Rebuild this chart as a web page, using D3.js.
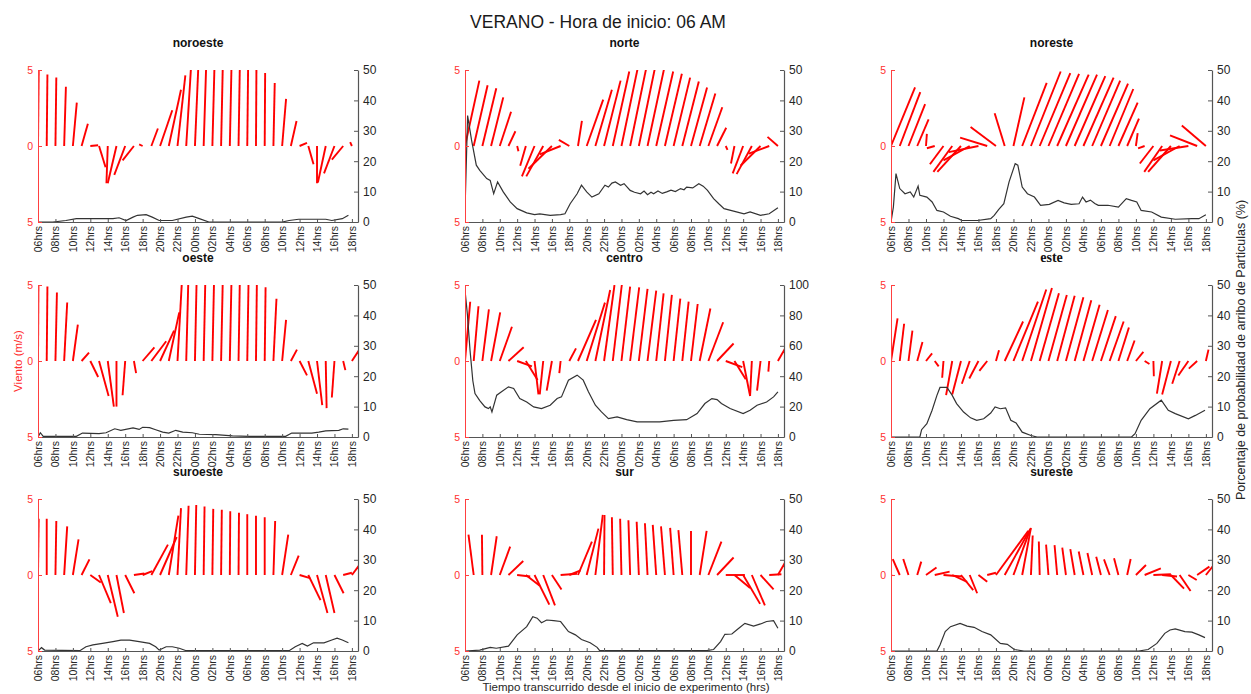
<!DOCTYPE html>
<html>
<head>
<meta charset="utf-8">
<script src="https://cdn.jsdelivr.net/npm/d3@7"></script>
<style>
  body { margin: 0; background: #fff; }
  text { font-family: Arial, "Liberation Sans", Helvetica, sans-serif; }
</style>
</head>
<body>
<div id="wrapper"></div>
<script>
// tick labels, one every 2 hours (06hrs day 1 -> 18hrs day 2)
const horas = ["06hrs","08hrs","10hrs","12hrs","14hrs","16hrs","18hrs","20hrs","22hrs",
               "00hrs","02hrs","04hrs","06hrs","08hrs","10hrs","12hrs","14hrs","16hrs","18hrs"];

// wind sticks, one per hour: [u, v] in m/s (u drawn along the time axis)
const viento_noroeste = [[0.08,5],[0.08,4.7],[0.1,4.5],[0.2,3.9],[0.45,2.85],[0.72,1.47],[0.9,0.05],[0.75,-1.4],[-0.15,-2.45],[-1.0,-2.45],[-1.25,-1.9],[-1.3,-0.95],[-0.4,0.1],[0.75,1.15],[1.4,2.35],[1.4,3.7],[0.9,4.65],[0.55,5.2],[0.4,5.4],[0.3,5.5],[0.25,5.5],[0.2,5.5],[0.2,5.5],[0.15,5.4],[0.1,5.3],[0.05,5.05],[0.05,4.8],[0.15,4.15],[0.45,3.1],[0.65,1.65],[0.85,0.2],[0.6,-1.2],[0,-2.45],[-0.9,-2.4],[-1.2,-1.8],[-1.3,-0.9],[-0.2,0.25]];
const viento_norte = [[1.65,4.3],[1.6,4.0],[1.6,3.8],[1.4,3.2],[1.3,2.25],[0.8,0.97],[0.15,-0.35],[-0.65,-1.3],[-1.45,-2.0],[-1.95,-2.0],[-2.7,-1.5],[-2.4,-0.55],[-1.2,0.4],[0.45,1.65],[1.9,3.05],[1.9,3.7],[1.9,4.3],[1.9,4.9],[1.9,5.2],[1.95,5.4],[1.95,5.4],[1.95,5.2],[1.95,4.9],[1.95,4.75],[1.9,4.5],[1.9,4.25],[1.85,3.85],[1.8,3.45],[1.6,2.55],[1.05,1.2],[0.2,-0.25],[-0.4,-1.15],[-1.2,-1.8],[-1.75,-1.85],[-2.3,-1.3],[-2.35,-0.5],[-1.2,0.6]];
const viento_noreste = [[2.75,3.85],[2.35,3.55],[1.9,2.75],[1.3,1.75],[0.1,0.8],[-0.9,-0.15],[-1.55,-1.2],[-2.15,-1.7],[-2.7,-1.7],[-3.0,-0.95],[-3.4,-0.4],[-3.1,0.55],[-2.9,1.25],[-1.15,2.15],[1.25,3.2],[2.8,4.15],[3.4,4.9],[3.5,4.8],[3.5,4.75],[3.6,4.7],[3.55,4.7],[3.5,4.6],[3.45,4.5],[3.2,4.3],[3.1,4.1],[2.7,3.75],[2.2,2.85],[1.35,1.8],[0.2,0.85],[-0.75,-0.15],[-1.55,-1.15],[-2.05,-1.7],[-2.6,-1.7],[-3.0,-0.95],[-3.25,-0.3],[-3.1,0.7],[-2.75,1.35]];
const viento_oeste = [[0.05,5],[0.08,4.9],[0.17,4.5],[0.35,3.85],[0.57,2.4],[0.85,0.55],[0.9,-1.05],[1.1,-2.3],[0.7,-3.0],[0,-3.0],[-0.3,-2.25],[0.25,-0.8],[1.35,0.9],[1.7,1.3],[1.6,2.0],[1.2,3.2],[0.5,5.2],[0.25,5.5],[0.2,5.6],[0.2,5.6],[0.2,5.6],[0.2,5.6],[0.2,5.6],[0.15,5.5],[0.15,5.4],[0.1,5.1],[0.1,4.85],[0.35,4.1],[0.45,2.7],[0.7,0.75],[0.85,-0.95],[1.0,-2.15],[0.6,-2.9],[0.1,-3.1],[-0.3,-2.4],[0.25,-0.6],[0.8,0.7]];
const viento_centro = [[0.6,3.9],[0.55,3.6],[0.75,3.4],[1.05,3.2],[1.4,2.25],[1.75,0.9],[1.7,-0.35],[1.35,-1.25],[0.45,-2.2],[-0.4,-2.2],[-0.6,-1.95],[-0.15,-0.8],[0.77,0.83],[2.07,2.7],[2.1,3.84],[1.7,4.67],[1.2,5.0],[1.04,5.0],[1.0,4.9],[1.04,4.85],[1.0,4.75],[1.0,4.63],[0.85,4.45],[0.8,4.35],[0.77,4.1],[0.73,3.9],[0.77,3.75],[1.23,3.45],[1.7,2.55],[1.9,1.15],[1.9,-0.4],[1.3,-1.2],[0.8,-2.3],[-0.2,-2.3],[-0.4,-1.95],[-0.1,-0.7],[0.8,0.8]];
const viento_este = [[0.75,2.8],[0.5,2.45],[0.45,2.0],[0.6,1.25],[0.7,0.5],[0.45,-0.35],[-0.15,-1.1],[-0.7,-2.25],[-1.0,-2.2],[-0.9,-1.5],[-1.05,-1.15],[-0.9,-0.65],[0.35,0.7],[2.1,2.6],[2.8,3.9],[2.75,4.7],[2.4,4.8],[2.2,4.45],[2.1,4.35],[2.0,4.3],[2.0,4.2],[1.9,4.0],[1.85,3.7],[1.8,3.35],[1.7,2.95],[1.6,2.6],[1.2,2.2],[0.85,1.35],[0.85,0.6],[0.55,-0.2],[0.05,-1.0],[-0.6,-2.15],[-1.0,-2.2],[-0.85,-1.5],[-1.15,-0.95],[-0.95,-0.5],[0.3,0.75]];
const viento_suroeste = [[0.08,3.7],[0,3.7],[0.1,3.55],[0.35,3.2],[0.65,2.35],[0.9,1.03],[1.2,-0.5],[1.35,-1.85],[1.15,-2.75],[0.85,-2.5],[1.05,-1.2],[1.2,0.1],[1.1,0.25],[1.9,2.0],[1.9,2.5],[1.1,3.9],[0.4,4.4],[0.27,4.55],[0.15,4.6],[0.1,4.5],[0.1,4.35],[0.08,4.3],[0.05,4.2],[0.05,4.1],[0,4.0],[0,3.9],[0,3.8],[0.2,3.55],[0.7,2.65],[0.9,1.28],[1.2,-0.2],[1.4,-1.65],[1.2,-2.5],[1.0,-2.5],[1.05,-1.2],[1.0,0.15],[0.85,0.65]];
const viento_sur = [[0,0],[-0.6,2.65],[-0.05,2.65],[0.65,2.55],[1.2,1.87],[1.7,0.92],[1.5,-0.1],[1.6,-0.7],[1.7,-1.95],[1.35,-2.0],[1.1,-0.95],[1.9,0.08],[1.3,0.3],[1.6,2.2],[1.35,3.05],[0.85,3.95],[0.05,3.95],[-0.1,3.8],[-0.15,3.7],[-0.2,3.6],[-0.25,3.5],[-0.3,3.4],[-0.4,3.3],[-0.45,3.2],[-0.4,3.1],[-0.45,2.95],[0,2.9],[0.8,2.9],[1.5,2.2],[1.9,1.15],[2.2,0],[1.8,-0.85],[1.95,-1.9],[1.5,-2.0],[1.5,-0.95],[1.4,0.05],[0.9,0.9]];
const viento_sureste = [[0.1,0.05],[-0.8,1.05],[-0.6,1.05],[0.46,0.88],[1.2,0.5],[1.7,0.22],[2.1,-0.1],[1.7,-0.45],[1.4,-1.0],[0.85,-1.2],[1.0,-0.45],[1.0,0.15],[3.7,2.9],[2.9,3.0],[1.95,3.05],[1.0,3.1],[0.2,2.6],[-0.1,2.2],[-0.27,2.0],[-0.3,1.97],[-0.42,1.8],[-0.5,1.7],[-0.54,1.55],[-0.54,1.45],[-0.54,1.2],[-0.65,1.03],[-0.5,1.1],[0.4,1.05],[1.15,0.66],[1.85,0.44],[2.0,0.05],[1.7,-0.1],[1.5,-0.9],[1.25,-1.05],[0.95,-0.33],[1.4,0.55],[0.9,0.65]];

// particle arrival probability: [hours since start, %]
const prob_noroeste = [[0,0],[1.7,0],[3.2,0.5],[4.4,1.1],[5.5,1.1],[7,1.1],[8.6,1.1],[9.3,1.4],[10.1,0.5],[10.9,1.6],[11.4,2.2],[12.4,2.4],[13.1,1.6],[13.9,0.5],[15.4,0.5],[17,1.6],[17.7,1.9],[18.5,1.1],[19.6,0],[28,0],[28.8,0.5],[29.9,0.9],[33,0.9],[33.7,0.5],[34.9,1.1],[35.6,2.2]];
const prob_norte = [[0,3.8],[0.3,35],[0.75,27],[1.3,18.7],[1.7,17],[2.5,14.3],[2.9,13.7],[3.3,9.3],[3.75,13.2],[4.4,9.9],[5.2,6.6],[6,4.4],[7.1,3],[8,2.4],[8.6,2.7],[9.8,2.2],[11,2.4],[11.5,2.7],[12.1,6],[12.9,9.3],[13.4,12.1],[14,9.9],[14.6,8.2],[15.4,9.3],[16.1,12.1],[16.5,11.5],[16.9,12.8],[17.3,13.2],[17.9,12.1],[18.3,12.6],[19,10.4],[19.5,9.8],[20.2,9.3],[20.6,10.2],[21,9],[21.4,9.8],[21.7,9.3],[22.2,10.2],[22.7,9.4],[23.2,9.9],[23.7,10.5],[24.2,10],[24.8,11],[25.2,10.6],[25.5,11.5],[26.2,11.2],[26.9,12.6],[27.4,11.8],[27.9,10.4],[28.6,7.7],[29.2,6],[29.8,4.4],[30.9,3.6],[32.1,2.7],[32.8,3.3],[34,2.2],[35,2.7],[36,4.7]];
const prob_noreste = [[0,0],[0.27,4.9],[0.57,15.9],[1,11],[1.6,9.3],[2.2,9.9],[2.6,8.2],[3.1,11.8],[3.3,8.8],[4.1,8.2],[4.7,6.6],[5.25,3.8],[6,3.3],[6.8,1.9],[7.7,1.1],[8.1,0.5],[9.9,0.5],[11.4,1.1],[11.8,2.2],[12.3,4.1],[12.9,6],[13.5,13.2],[14.2,19.2],[14.5,18.7],[15,11.5],[15.6,9.3],[16.4,8.2],[17.1,5.5],[18.1,5.8],[19.1,7.1],[19.8,6.3],[20.6,5.8],[21.5,6],[21.9,8.2],[22.3,6.6],[22.8,7.2],[23.3,6.1],[23.7,5.5],[24.8,5.5],[26,4.9],[26.9,7.7],[27.5,7.1],[28.1,6.6],[28.6,3.8],[29.8,3.3],[30.9,1.6],[32.5,0.9],[34.4,1.1],[35.2,1.1],[36,2.4]];
const prob_oeste = [[0,0],[0.27,1.4],[0.6,0.2],[4.4,0.2],[5.1,1.3],[7,1.1],[7.8,1.4],[8.8,2.7],[9.5,2.2],[10.9,3],[11.6,2.5],[12,3.2],[12.8,3.1],[13.5,2.4],[14.3,1.6],[15,1.3],[15.8,2.2],[16.6,1.6],[17.7,1.4],[18.5,0.9],[20.4,0.8],[22.3,0.4],[24.2,0.2],[28.4,0.2],[29.1,1.3],[31.4,1.3],[32.2,1.6],[33,2],[33.7,2.1],[34.5,2.2],[35,2.7],[35.6,2.6]];
const prob_centro = [[0,96.7],[0.27,81],[0.58,57],[0.9,37],[1.15,28.6],[1.7,24],[2.3,19.8],[2.7,18.7],[2.9,19.8],[3.1,16.5],[3.65,27.5],[4.2,29.7],[5,33],[5.6,31.9],[6.3,25.3],[7.1,23],[7.9,19.8],[8.8,18.7],[9.8,20.9],[10.6,25.3],[11.1,26.4],[11.9,37.4],[12.9,40.7],[13.6,37.4],[14.2,29.7],[15,20.9],[15.7,16.5],[16.5,12.1],[17.5,13.2],[18.6,11.4],[19.8,9.9],[20.9,9.9],[22.4,9.9],[24,11],[25.5,11.4],[26.7,15.4],[27.6,22],[28.4,25.3],[29,24.6],[29.5,22],[30.5,18.7],[32,15.4],[32.8,17.6],[33.6,20.9],[34.7,23],[35.5,26.4],[36,29.7]];
const prob_este = [[0,0],[3.3,0],[3.5,2.4],[4.1,4.4],[4.7,8.8],[5.25,13.7],[5.6,16.3],[6.4,16.3],[7,13.7],[7.5,11],[8.3,8.2],[9.1,6.3],[9.8,5.5],[10.6,6],[11.4,7.9],[11.9,9.9],[12.5,9.3],[13.1,9.6],[13.7,5.5],[14.3,4.6],[15,1.6],[16,0.5],[16.7,0],[27.5,0],[27.9,1.1],[28.6,5.5],[29.6,9.3],[30.9,12.1],[31.7,8.8],[32.5,7.7],[34,6],[34.8,7.1],[35.9,8.8]];
const prob_suroeste = [[0,0],[0.4,1.1],[0.76,0.3],[4.8,0.1],[5.5,1.4],[6.3,2],[7.4,2.5],[8.6,3.1],[9.5,3.6],[10.5,3.6],[11.6,3.1],[12.8,2.5],[13.5,1.4],[13.9,0.3],[14.7,1.4],[15.4,1.4],[16.2,0.9],[17,0.1],[28.8,0.1],[29.5,1.4],[30.3,2.5],[30.9,1.6],[31.6,2.7],[32.8,2.7],[33.7,3.6],[34.3,4.2],[34.9,3.6],[35.6,2.7]];
const prob_sur = [[0,0],[1.7,0.3],[2.9,1.2],[3.6,0.9],[5,1.6],[6,5.3],[7.1,8],[7.8,11.3],[8.3,10.8],[8.8,9.3],[9.4,10.2],[10.2,10],[11,9.7],[11.9,6.4],[12.7,5.3],[13.4,3.8],[14.4,2.7],[15.2,1.2],[15.5,0.1],[27.8,0.1],[28.6,0.5],[29.4,3.1],[29.9,5.5],[30.7,5.6],[31.5,7.5],[32.2,9.1],[33.2,8.2],[34,8.9],[34.7,9.7],[35.5,10],[36,7.5]];
const prob_sureste = [[0,0],[5.25,0],[5.6,2],[6.2,6.4],[6.8,8],[7.9,9.1],[8.7,8.2],[9.5,7.8],[10.4,6.4],[11.4,5.3],[12.5,2.5],[13.3,2.2],[14.1,0.5],[15.2,0],[28.3,0],[29.4,0.5],[30.4,2.5],[31.3,5.8],[31.9,6.9],[32.5,7.3],[33.6,6.4],[34.4,6.2],[35.2,5.3],[35.9,4.4]];

const panels = [
  {name: "noroeste", viento: viento_noroeste, prob: prob_noroeste, pmax: 50,  col: 0, row: 0},
  {name: "norte",    viento: viento_norte,    prob: prob_norte,    pmax: 50,  col: 1, row: 0},
  {name: "noreste",  viento: viento_noreste,  prob: prob_noreste,  pmax: 50,  col: 2, row: 0},
  {name: "oeste",    viento: viento_oeste,    prob: prob_oeste,    pmax: 50,  col: 0, row: 1},
  {name: "centro",   viento: viento_centro,   prob: prob_centro,   pmax: 100, col: 1, row: 1},
  {name: "este",     viento: viento_este,     prob: prob_este,     pmax: 50,  col: 2, row: 1, serif: true},
  {name: "suroeste", viento: viento_suroeste, prob: prob_suroeste, pmax: 50,  col: 0, row: 2},
  {name: "sur",      viento: viento_sur,      prob: prob_sur,      pmax: 50,  col: 1, row: 2},
  {name: "sureste",  viento: viento_sureste,  prob: prob_sureste,  pmax: 50,  col: 2, row: 2}
];

const colX = [38, 465, 891], colW = [320, 319, 321];
const rowY = [70, 285, 499], rowH = 152;

const svg = d3.select("#wrapper").append("svg")
  .attr("width", 1251).attr("height", 694);

svg.append("text")
  .attr("x", 598).attr("y", 28)
  .attr("text-anchor", "middle")
  .style("font-size", "17.5px")
  .attr("fill", "#1a1a1a")
  .text("VERANO - Hora de inicio: 06 AM");

panels.forEach((p, k) => {
  const x0 = colX[p.col], w = colW[p.col];
  const y0 = rowY[p.row], h = rowH;

  const x = d3.scaleLinear().domain([0, 36.7]).range([x0, x0 + w]);
  const yw = d3.scaleLinear().domain([-5, 5]).range([y0 + h, y0]);
  const yp = d3.scaleLinear().domain([0, p.pmax]).range([y0 + h, y0]);

  const g = svg.append("g");

  svg.append("clipPath").attr("id", "clip" + k)
    .append("rect").attr("x", x0).attr("y", y0).attr("width", w).attr("height", h);

  // title ("este" is set in a serif face in the original)
  g.append("text")
    .attr("x", x0 + w / 2).attr("y", y0 - 23)
    .attr("text-anchor", "middle")
    .attr("font-weight", "bold")
    .style("font-size", p.serif ? "14px" : "12px")
    .style("font-family", p.serif ? "'Liberation Serif', 'Times New Roman', serif" : null)
    .attr("fill", "#111")
    .text(p.name);

  // wind sticks
  g.append("g").attr("clip-path", `url(#clip${k})`)
    .selectAll("line")
    .data(p.viento)
    .join("line")
    .attr("x1", (d, i) => x(i))
    .attr("y1", yw(0))
    .attr("x2", (d, i) => x(i + d[0]))
    .attr("y2", d => yw(d[1]))
    .attr("stroke", "#ff0000")
    .attr("stroke-width", 1.9);

  // probability line
  g.append("path")
    .datum(p.prob)
    .attr("clip-path", `url(#clip${k})`)
    .attr("fill", "none")
    .attr("stroke", "#333")
    .attr("stroke-width", 1.2)
    .attr("d", d3.line().x(d => x(d[0])).y(d => yp(d[1])));

  // bottom axis
  const xAxis = d3.axisBottom(x)
    .tickValues(d3.range(0, 37, 2))
    .tickFormat((d, i) => horas[i])
    .tickSizeInner(-3).tickSizeOuter(0);
  const gx = g.append("g")
    .attr("transform", `translate(0,${y0 + h})`)
    .call(xAxis);
  gx.select(".domain").attr("stroke", "#555");
  gx.selectAll(".tick line").attr("stroke", "#555");
  gx.selectAll("text")
    .attr("transform", "rotate(-90)")
    .attr("x", -4).attr("y", 0).attr("dy", "0.33em")
    .style("text-anchor", "end")
    .style("font-size", "10.5px")
    .attr("fill", "#262626");

  // left axis (wind, red)
  const gl = g.append("g")
    .attr("transform", `translate(${x0},0)`)
    .call(d3.axisLeft(yw).tickValues([-5, 0, 5]).tickFormat(d => Math.abs(d))
      .tickSizeInner(-4).tickSizeOuter(0).tickPadding(5));
  gl.select(".domain").attr("stroke", "#ff4040");
  gl.selectAll(".tick line").attr("stroke", "#ff4040");
  gl.selectAll("text").style("font-size", "10.5px").attr("fill", "#ff3030");

  // right axis (probability)
  const gr = g.append("g")
    .attr("transform", `translate(${x0 + w},0)`)
    .call(d3.axisRight(yp).ticks(5).tickSizeInner(-4).tickSizeOuter(0).tickPadding(5));
  gr.select(".domain").attr("stroke", "#555").attr("stroke-width", 1.2);
  gr.selectAll(".tick line").attr("stroke", "#555");
  gr.selectAll("text").style("font-size", "12px").attr("fill", "#262626");
});

svg.append("text")
  .attr("transform", "translate(22,361) rotate(-90)")
  .attr("text-anchor", "middle")
  .style("font-size", "11.5px")
  .attr("fill", "#ff3030")
  .text("Viento (m/s)");

svg.append("text")
  .attr("transform", "translate(1245,350) rotate(-90)")
  .attr("text-anchor", "middle")
  .style("font-size", "12.5px")
  .attr("fill", "#262626")
  .text("Porcentaje de probabilidad de arribo de Particulas (%)");

svg.append("text")
  .attr("x", 626).attr("y", 691)
  .attr("text-anchor", "middle")
  .style("font-size", "11.5px")
  .attr("fill", "#262626")
  .text("Tiempo transcurrido desde el inicio de experimento (hrs)");
</script>
</body>
</html>
